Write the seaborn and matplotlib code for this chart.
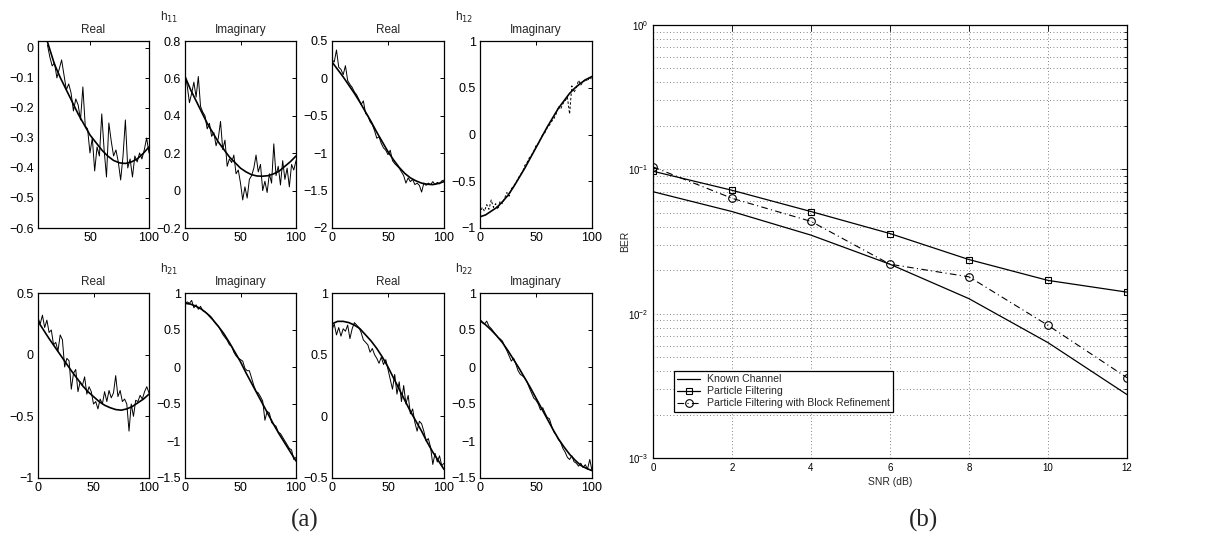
import numpy as np
import matplotlib
matplotlib.use("Agg")
import matplotlib.pyplot as plt
import seaborn as sns

# -----------------------------
# Data
# -----------------------------
# (a) channel taps: sample index, smooth true channel, noisy estimate
t_noisy = list(range(0, 101, 2))
t_noisy_h11r = list(range(14, 101, 2))
t_smooth = list(range(0, 101, 5))
t_smooth_h11r = [14] + list(range(20, 101, 5))

h11_real_true = [0.02, -0.055, -0.10, -0.14, -0.18, -0.22, -0.255, -0.29, -0.315, -0.34,
                 -0.36, -0.375, -0.383, -0.385, -0.38, -0.37, -0.352, -0.33]
h11_real_est = [0.01, -0.03, -0.06, -0.05, -0.10, -0.07, -0.04, -0.09, -0.14, -0.12, -0.15,
                -0.21, -0.17, -0.19, -0.24, -0.13, -0.26, -0.27, -0.35, -0.30, -0.41, -0.33,
                -0.36, -0.22, -0.34, -0.43, -0.25, -0.31, -0.36, -0.34, -0.38, -0.44, -0.36,
                -0.24, -0.40, -0.37, -0.43, -0.36, -0.38, -0.35, -0.37, -0.34, -0.30, -0.35]

h11_imag_true = [0.61, 0.54, 0.48, 0.42, 0.36, 0.31, 0.26, 0.22, 0.18, 0.15, 0.12, 0.10,
                 0.085, 0.078, 0.077, 0.08, 0.09, 0.105, 0.13, 0.155, 0.185]
h11_imag_est = [0.62, 0.56, 0.47, 0.52, 0.58, 0.50, 0.61, 0.45, 0.42, 0.40, 0.33, 0.36, 0.29,
                0.31, 0.24, 0.28, 0.37, 0.22, 0.27, 0.13, 0.17, 0.15, 0.19, 0.09, 0.11, 0.04,
                -0.05, 0.02, -0.04, 0.06, 0.08, 0.12, 0.19, 0.10, 0.14, 0.00, 0.05, -0.01, 0.09,
                0.04, 0.25, 0.08, 0.13, 0.03, 0.16, 0.06, 0.12, 0.02, 0.14, 0.11, 0.16]

h12_real_true = [0.22, 0.12, 0.02, -0.09, -0.20, -0.32, -0.45, -0.58, -0.72, -0.85, -0.98,
                 -1.09, -1.19, -1.27, -1.33, -1.37, -1.40, -1.415, -1.42, -1.405, -1.38]
h12_real_est = [0.25, 0.22, 0.38, 0.15, 0.12, 0.05, 0.17, -0.03, -0.08, -0.12, -0.18, -0.22,
                -0.28, -0.35, -0.30, -0.47, -0.50, -0.58, -0.62, -0.70, -0.80, -0.78, -0.87,
                -0.93, -0.96, -1.02, -0.96, -1.10, -1.14, -1.17, -1.20, -1.25, -1.30, -1.40,
                -1.33, -1.38, -1.35, -1.42, -1.40, -1.43, -1.52, -1.40, -1.43, -1.40, -1.42,
                -1.38, -1.42, -1.39, -1.41, -1.37, -1.36]

h12_imag_true = [-0.88, -0.86, -0.82, -0.78, -0.72, -0.65, -0.56, -0.46, -0.36, -0.25, -0.14,
                 -0.03, 0.08, 0.18, 0.28, 0.36, 0.44, 0.50, 0.55, 0.59, 0.62]
h12_imag_est = [-0.85, -0.78, -0.82, -0.75, -0.80, -0.70, -0.78, -0.74, -0.80, -0.71, -0.74,
                -0.68, -0.62, -0.66, -0.58, -0.55, -0.52, -0.47, -0.43, -0.40, -0.33, -0.30,
                -0.25, -0.22, -0.18, -0.12, -0.10, -0.05, 0.00, 0.02, 0.07, 0.10, 0.14, 0.17,
                0.22, 0.30, 0.27, 0.33, 0.36, 0.40, 0.22, 0.52, 0.45, 0.50, 0.58, 0.53, 0.56,
                0.60, 0.57, 0.62, 0.58]

h21_real_true = [0.27, 0.20, 0.13, 0.065, 0.0, -0.065, -0.13, -0.19, -0.25, -0.30, -0.34,
                 -0.38, -0.41, -0.43, -0.445, -0.45, -0.44, -0.42, -0.39, -0.36, -0.32]
h21_real_est = [0.30, 0.25, 0.32, 0.22, 0.28, 0.18, 0.20, 0.08, 0.10, 0.03, 0.16, 0.12, -0.10,
                -0.03, -0.05, -0.28, -0.15, -0.12, -0.30, -0.22, -0.25, -0.18, -0.32, -0.26,
                -0.30, -0.40, -0.38, -0.44, -0.36, -0.40, -0.30, -0.38, -0.29, -0.35, -0.31,
                -0.17, -0.34, -0.29, -0.38, -0.36, -0.40, -0.62, -0.40, -0.50, -0.37, -0.38,
                -0.33, -0.36, -0.30, -0.26, -0.31]

h21_imag_true = [0.86, 0.85, 0.82, 0.78, 0.72, 0.64, 0.55, 0.45, 0.33, 0.20, 0.07, -0.08,
                 -0.22, -0.36, -0.50, -0.64, -0.78, -0.91, -1.03, -1.15, -1.27]
h21_imag_est = [0.85, 0.88, 0.86, 0.90, 0.80, 0.84, 0.78, 0.82, 0.76, 0.75, 0.72, 0.70, 0.67,
                0.62, 0.58, 0.55, 0.50, 0.44, 0.40, 0.36, 0.30, 0.28, 0.20, 0.15, 0.12, 0.10,
                0.08, -0.02, -0.05, -0.05, -0.15, -0.25, -0.33, -0.35, -0.40, -0.46, -0.72,
                -0.60, -0.62, -0.75, -0.78, -0.80, -0.88, -0.90, -0.95, -1.00, -1.05, -1.10,
                -1.12, -1.25, -1.22]

h22_real_true = [0.75, 0.77, 0.77, 0.76, 0.74, 0.71, 0.66, 0.61, 0.55, 0.48, 0.40, 0.31, 0.22,
                 0.13, 0.04, -0.04, -0.12, -0.21, -0.29, -0.36, -0.43]
h22_real_est = [0.70, 0.75, 0.66, 0.72, 0.65, 0.71, 0.69, 0.74, 0.63, 0.71, 0.76, 0.74, 0.72,
                0.68, 0.62, 0.60, 0.58, 0.52, 0.55, 0.50, 0.47, 0.43, 0.48, 0.42, 0.46, 0.38,
                0.30, 0.22, 0.34, 0.18, 0.28, 0.12, 0.25, 0.10, 0.17, 0.02, 0.06, -0.05, -0.12,
                -0.04, -0.06, -0.12, -0.20, -0.18, -0.25, -0.39, -0.30, -0.37, -0.32, -0.40,
                -0.38]

h22_imag_true = [0.63, 0.57, 0.50, 0.42, 0.33, 0.22, 0.10, -0.02, -0.15, -0.28, -0.42, -0.56,
                 -0.70, -0.84, -0.97, -1.08, -1.18, -1.26, -1.33, -1.37, -1.40]
h22_imag_est = [0.65, 0.60, 0.58, 0.62, 0.55, 0.52, 0.48, 0.44, 0.40, 0.38, 0.35, 0.28, 0.22,
                0.15, 0.08, 0.12, 0.04, -0.05, -0.10, -0.12, -0.15, -0.20, -0.28, -0.35, -0.42,
                -0.45, -0.50, -0.58, -0.55, -0.62, -0.68, -0.70, -0.80, -0.88, -0.92, -0.98,
                -1.02, -1.10, -1.15, -1.22, -1.25, -1.20, -1.28, -1.30, -1.34, -1.30, -1.36,
                -1.32, -1.38, -1.25, -1.40]

# (b) BER curves
snr_db = [0, 2, 4, 6, 8, 10, 12]
ber_known = [0.070, 0.051, 0.035, 0.022, 0.0127, 0.0063, 0.00275]
ber_pf = [0.097, 0.0716, 0.051, 0.0359, 0.0237, 0.0170, 0.0141]
ber_pf_block = [0.104, 0.063, 0.0436, 0.022, 0.018, 0.0083, 0.0036]

# -----------------------------
# Style
# -----------------------------
sns.set_theme(style="white")
plt.rcParams["font.family"] = ["Liberation Sans", "DejaVu Sans"]
plt.rcParams["axes.edgecolor"] = "black"
plt.rcParams["axes.linewidth"] = 0.9
plt.rcParams["xtick.color"] = "black"
plt.rcParams["ytick.color"] = "black"

W, H = 1226, 540
fig = plt.figure(figsize=(W / 100, H / 100), dpi=100)


def px_axes(x0, x1, y0, y1):
    return fig.add_axes([x0 / W, 1 - y1 / H, (x1 - x0) / W, (y1 - y0) / H])


col_x = [(38, 149), (185, 296), (332, 444), (480, 592)]
row_y = [(41, 228), (293, 478)]

panels = [
    # row, col, title, x_true, y_true, x_est, y_est, ylim, yticks
    (0, 0, "Real", t_smooth_h11r, h11_real_true, t_noisy_h11r, h11_real_est,
     (-0.6, 0.023), np.arange(-0.6, 0.01, 0.1)),
    (0, 1, "Imaginary", t_smooth, h11_imag_true, t_noisy, h11_imag_est,
     (-0.2, 0.8), np.arange(-0.2, 0.81, 0.2)),
    (0, 2, "Real", t_smooth, h12_real_true, t_noisy, h12_real_est,
     (-2, 0.5), np.arange(-2, 0.51, 0.5)),
    (0, 3, "Imaginary", t_smooth, h12_imag_true, t_noisy, h12_imag_est,
     (-1, 1), np.arange(-1, 1.01, 0.5)),
    (1, 0, "Real", t_smooth, h21_real_true, t_noisy, h21_real_est,
     (-1, 0.5), np.arange(-1, 0.51, 0.5)),
    (1, 1, "Imaginary", t_smooth, h21_imag_true, t_noisy, h21_imag_est,
     (-1.5, 1), np.arange(-1.5, 1.01, 0.5)),
    (1, 2, "Real", t_smooth, h22_real_true, t_noisy, h22_real_est,
     (-0.5, 1), np.arange(-0.5, 1.01, 0.5)),
    (1, 3, "Imaginary", t_smooth, h22_imag_true, t_noisy, h22_imag_est,
     (-1.5, 1), np.arange(-1.5, 1.01, 0.5)),
]


def fmt_tick(v):
    v = round(v, 2)
    if abs(v) < 1e-9:
        return "0"
    s = f"{v:g}"
    return s.replace("-", "\u2212")


for row, col, title, xt, yt, xe, ye, ylim, yticks in panels:
    ax = px_axes(*col_x[col], *row_y[row])
    style = (0, (2.5, 2)) if (row, col) == (0, 3) else "-"
    sns.lineplot(x=xe, y=ye, ax=ax, color="black", lw=0.7, linestyle=style)
    sns.lineplot(x=xt, y=yt, ax=ax, color="black", lw=1.2)
    ax.set_ylim(*ylim)
    ax.set_yticks(yticks)
    ax.set_yticklabels([fmt_tick(v) for v in yticks])
    if (row, col) == (0, 0):
        ax.set_xlim(6, 100)
        ax.set_xticks([50, 100])
        ax.set_xticklabels(["50", "100"])
    else:
        ax.set_xlim(0, 100)
        ax.set_xticks([0, 50, 100])
        ax.set_xticklabels(["0", "50", "100"])
    ax.tick_params(direction="in", top=True, right=True, length=3, width=0.7,
                   labelsize=9, pad=3)
    ax.set_title(title, fontsize=8.5, pad=6)
    ax.set_xlabel("")
    ax.set_ylabel("")

# h labels between column pairs
for lbl, x, y in [(r"h$_{11}$", 160, 17), (r"h$_{12}$", 455, 17),
                  (r"h$_{21}$", 160, 269), (r"h$_{22}$", 455, 269)]:
    fig.text(x / W, 1 - y / H, lbl, fontsize=8.5, ha="left", va="center")

# -----------------------------
# (b) BER vs SNR
# -----------------------------
axb = px_axes(653, 1127, 25, 458)
sns.lineplot(x=snr_db, y=ber_known, ax=axb, color="black", lw=0.9,
             label="Known Channel")
sns.lineplot(x=snr_db, y=ber_pf, ax=axb, color="black", lw=0.9, marker="s",
             markersize=5, markerfacecolor="none", markeredgecolor="black",
             markeredgewidth=0.8, label="Particle Filtering")
sns.lineplot(x=snr_db, y=ber_pf_block, ax=axb, color="black", lw=0.8,
             linestyle=(0, (6, 3, 1, 3)), marker="o", markersize=5.5,
             markerfacecolor="none", markeredgecolor="black", markeredgewidth=0.8,
             label="Particle Filtering with Block Refinement")
axb.set_yscale("log")
axb.set_ylim(1e-3, 1)
axb.set_xlim(0, 12)
axb.set_xticks(snr_db)
axb.grid(True, which="major", linestyle=(0, (1, 3)), color="0.35", lw=0.6)
axb.grid(True, which="minor", axis="y", linestyle=(0, (1, 3)), color="0.35", lw=0.6)
axb.tick_params(which="both", direction="in", top=True, right=True, labelsize=7,
                width=0.6)
axb.tick_params(which="major", length=4)
axb.tick_params(which="minor", length=2)
axb.set_xlabel("SNR (dB)", fontsize=7.5, labelpad=3)
axb.set_ylabel("BER", fontsize=7.5)
axb.yaxis.set_label_coords((630 - 653) / 474, 0.5)
leg = axb.legend(loc="lower left", bbox_to_anchor=(0.033, 0.095), fontsize=7.6,
                 frameon=True, fancybox=False, edgecolor="black", framealpha=1,
                 handlelength=2.2, borderpad=0.3, labelspacing=0.2,
                 handletextpad=0.6)
leg.get_frame().set_linewidth(0.9)

# panel captions
fig.text(305 / W, 1 - 520 / H, "(a)", fontsize=18, family="Liberation Serif",
         ha="center", va="center")
fig.text(923 / W, 1 - 520 / H, "(b)", fontsize=18, family="Liberation Serif",
         ha="center", va="center")

fig.savefig("out.png", dpi=100)
